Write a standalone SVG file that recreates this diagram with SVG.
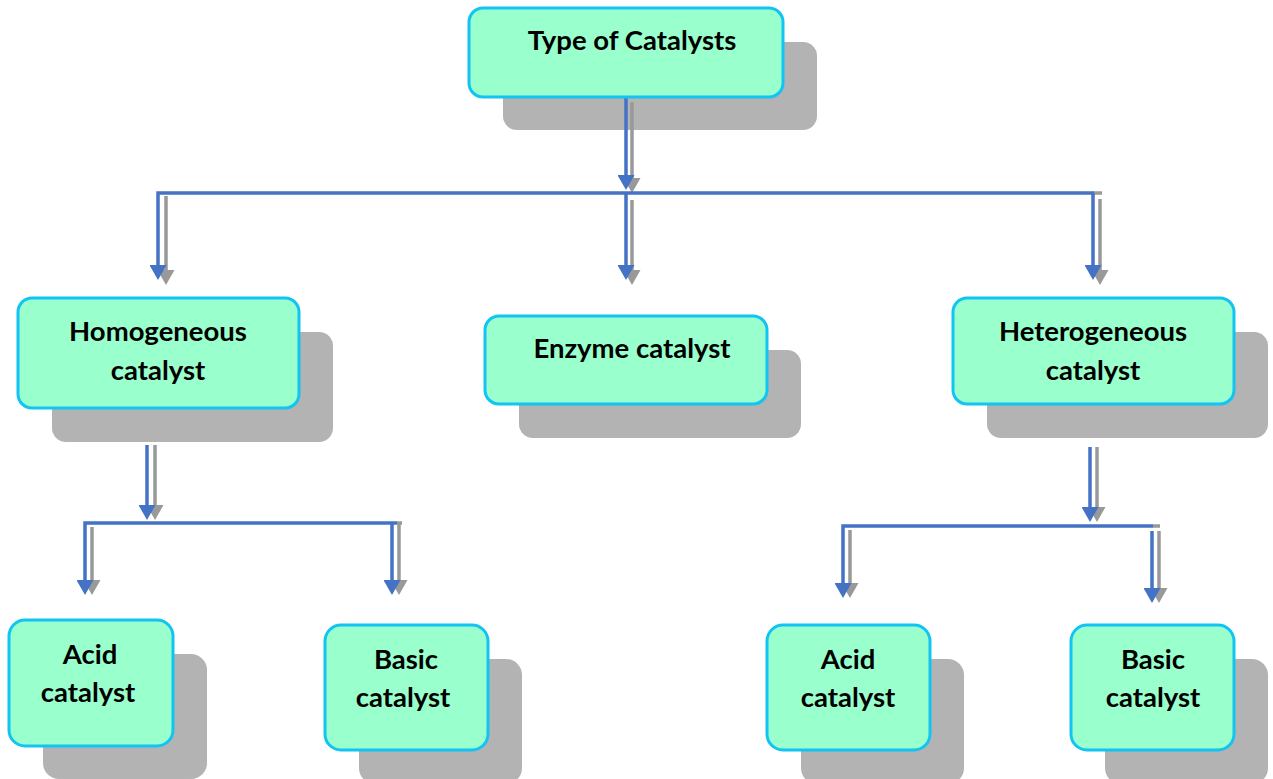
<svg xmlns="http://www.w3.org/2000/svg" width="1273" height="779" viewBox="0 0 1273 779">
  <style>
    .shadow { fill: #b3b3b3; }
    .box { fill: #99ffcc; stroke: #12c4f2; stroke-width: 3; }
    .label { font-family: Lato, "Liberation Sans", sans-serif; font-weight: bold; font-size: 27.5px; fill: #000; text-anchor: middle; }
    .wire { fill: none; stroke: #4472c4; stroke-width: 3.5; }
    .wire-shadow { fill: none; stroke: #999999; stroke-width: 3.5; }
  </style>
  <defs>
    <marker id="head-blue" markerUnits="userSpaceOnUse" markerWidth="15" markerHeight="17" viewBox="0 0 15 17" refX="0" refY="8.5" orient="auto">
      <path d="M0,0 L15,8.5 L0,17 z" fill="#4472c4"/>
    </marker>
    <marker id="head-gray" markerUnits="userSpaceOnUse" markerWidth="15" markerHeight="17" viewBox="0 0 15 17" refX="0" refY="8.5" orient="auto">
      <path d="M0,0 L15,8.5 L0,17 z" fill="#999999"/>
    </marker>
  </defs>

  <!-- shadows behind boxes -->
  <g id="shadows">
    <rect class="shadow" x="503" y="42" width="314" height="88" rx="14"/>
    <rect class="shadow" x="52" y="332" width="281" height="110" rx="14"/>
    <rect class="shadow" x="519" y="350" width="282" height="88" rx="14"/>
    <rect class="shadow" x="987" y="332" width="281" height="106" rx="14"/>
    <rect class="shadow" x="43" y="654" width="164" height="125" rx="16"/>
    <rect class="shadow" x="359" y="659" width="163" height="125" rx="16"/>
    <rect class="shadow" x="801" y="659" width="163" height="125" rx="16"/>
    <rect class="shadow" x="1105" y="659" width="163" height="125" rx="16"/>
  </g>

  <!-- connectors: gray offset copies first, blue on top -->
  <g id="connectors">
    <!-- gray offset copies -->
    <path class="wire-shadow" d="M632,102 V178" marker-end="url(#head-gray)"/>
    <path class="wire-shadow" d="M1093,193 H1102"/>
    <path class="wire-shadow" d="M166,196 V270" marker-end="url(#head-gray)"/>
    <path class="wire-shadow" d="M632,200 V270" marker-end="url(#head-gray)"/>
    <path class="wire-shadow" d="M1100,199 V270" marker-end="url(#head-gray)"/>

    <path class="wire-shadow" d="M155,445 V505" marker-end="url(#head-gray)"/>
    <path class="wire-shadow" d="M397,523 H402"/>
    <path class="wire-shadow" d="M92,527 V580" marker-end="url(#head-gray)"/>
    <path class="wire-shadow" d="M399,523 V580" marker-end="url(#head-gray)"/>

    <path class="wire-shadow" d="M1097,447 V507" marker-end="url(#head-gray)"/>
    <path class="wire-shadow" d="M1153,526 H1160"/>
    <path class="wire-shadow" d="M850,530 V583" marker-end="url(#head-gray)"/>
    <path class="wire-shadow" d="M1159,531 V588" marker-end="url(#head-gray)"/>

    <!-- blue connectors -->
    <path class="wire" d="M626,97 V175" marker-end="url(#head-blue)"/>
    <path class="wire" d="M1094,193 H158 V265" marker-end="url(#head-blue)"/>
    <path class="wire" d="M626,193 V265" marker-end="url(#head-blue)"/>
    <path class="wire" d="M1093,193 V265" marker-end="url(#head-blue)"/>

    <path class="wire" d="M147,445 V505" marker-end="url(#head-blue)"/>
    <path class="wire" d="M397,523 H85 V580" marker-end="url(#head-blue)"/>
    <path class="wire" d="M392,523 V580" marker-end="url(#head-blue)"/>

    <path class="wire" d="M1090,447 V507" marker-end="url(#head-blue)"/>
    <path class="wire" d="M1153,526 H843 V583" marker-end="url(#head-blue)"/>
    <path class="wire" d="M1152,531 V588" marker-end="url(#head-blue)"/>
  </g>

  <g id="type-of-catalysts">
    <rect class="box" x="469" y="8" width="314" height="89" rx="14"/>
    <text class="label" x="632" y="50">Type of Catalysts</text>
  </g>

  <g id="homogeneous">
    <rect class="box" x="18" y="298" width="281" height="110" rx="14"/>
    <text class="label" x="158" y="341">Homogeneous</text>
    <text class="label" x="158" y="380">catalyst</text>
  </g>

  <g id="enzyme">
    <rect class="box" x="485" y="316" width="282" height="88" rx="14"/>
    <text class="label" x="632" y="358">Enzyme catalyst</text>
  </g>

  <g id="heterogeneous">
    <rect class="box" x="953" y="298" width="281" height="106" rx="14"/>
    <text class="label" x="1093" y="341">Heterogeneous</text>
    <text class="label" x="1093" y="380">catalyst</text>
  </g>

  <g id="acid-homogeneous">
    <rect class="box" x="9" y="620" width="164" height="126" rx="16"/>
    <text class="label" x="90" y="664">Acid</text>
    <text class="label" x="88" y="702">catalyst</text>
  </g>

  <g id="basic-homogeneous">
    <rect class="box" x="325" y="625" width="163" height="125" rx="16"/>
    <text class="label" x="406" y="669">Basic</text>
    <text class="label" x="403" y="707">catalyst</text>
  </g>

  <g id="acid-heterogeneous">
    <rect class="box" x="767" y="625" width="163" height="125" rx="16"/>
    <text class="label" x="848" y="669">Acid</text>
    <text class="label" x="848" y="707">catalyst</text>
  </g>

  <g id="basic-heterogeneous">
    <rect class="box" x="1071" y="625" width="163" height="125" rx="16"/>
    <text class="label" x="1153" y="669">Basic</text>
    <text class="label" x="1153" y="707">catalyst</text>
  </g>
</svg>
